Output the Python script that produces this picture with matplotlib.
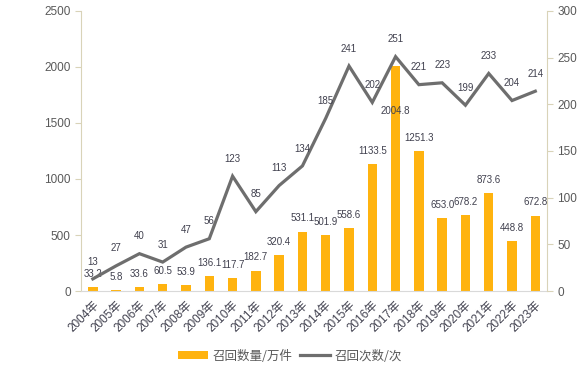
import matplotlib
matplotlib.use("Agg")
import matplotlib.pyplot as plt
from matplotlib.patches import Patch
from matplotlib.lines import Line2D

plt.rcParams['font.family'] = ['Liberation Sans', 'Noto Sans CJK SC', 'DejaVu Sans']

years = ["2004年", "2005年", "2006年", "2007年", "2008年", "2009年", "2010年", "2011年",
         "2012年", "2013年", "2014年", "2015年", "2016年", "2017年", "2018年", "2019年",
         "2020年", "2021年", "2022年", "2023年"]
quantity = [33.2, 5.8, 33.6, 60.5, 53.9, 136.1, 117.7, 182.7, 320.4, 531.1, 501.9, 558.6,
            1133.5, 2004.8, 1251.3, 653.0, 678.2, 873.6, 448.8, 672.8]
counts = [13, 27, 40, 31, 47, 56, 123, 85, 113, 134, 185, 241, 202, 251, 221, 223, 199, 233, 204, 214]

bar_color = "#FFB30F"
line_color = "#6E6E6E"
spine_color = "#D9D3B8"
tick_color = "#595959"
label_color = "#40404E"

fig = plt.figure(figsize=(5.8, 3.76), dpi=100)
ax = fig.add_axes([0.140, 0.226, 0.803, 0.745])
ax2 = ax.twinx()

x = list(range(len(years)))
ax.bar(x, quantity, width=0.4, color=bar_color, zorder=2)
ax2.plot(x, counts, color=line_color, linewidth=2.3, zorder=3, solid_joinstyle='miter')

ax.set_xlim(-0.5, len(years) - 0.5)
ax.set_ylim(0, 2500)
ax.set_yticks(range(0, 2501, 500))
ax2.set_ylim(0, 300)
ax2.set_yticks(range(0, 301, 50))

for a in (ax, ax2):
    a.spines["top"].set_visible(False)
    a.spines["left"].set_color(spine_color)
    a.spines["right"].set_color(spine_color)
    a.spines["bottom"].set_color("#D9D9D9")
    a.tick_params(axis='y', colors=spine_color, labelcolor=tick_color, labelsize=8.5, length=4, width=0.8)
ax2.spines["left"].set_visible(False)
ax.spines["right"].set_visible(False)
ax2.spines["bottom"].set_visible(False)

ax.set_xticks(x)
ax.set_xticklabels(years, rotation=45, ha='right', rotation_mode='anchor', fontsize=8.5,
                   color=label_color, family=['Liberation Sans', 'Noto Sans CJK SC'])
ax.tick_params(axis='x', length=0, pad=6)

for xi, v in zip(x, quantity):
    off = 9.5
    if v > 2000:
        off = -32
    ax.annotate(f"{v:.1f}", (xi, v), xytext=(0, off), textcoords='offset points',
                ha='center', va='center', fontsize=7, color=label_color, zorder=5)

for xi, c in zip(x, counts):
    ax2.annotate(str(c), (xi, c), xytext=(0, 12.5), textcoords='offset points',
                 ha='center', va='center', fontsize=7, color=label_color, zorder=5)

handles = [Patch(facecolor=bar_color, edgecolor='none'),
           Line2D([0], [0], color=line_color, linewidth=2.3)]
fig.legend(handles, ["召回数量/万件", "召回次数/次"], loc='center', bbox_to_anchor=(0.5, 0.053),
           ncol=2, frameon=False, labelcolor=tick_color,
           prop={'family': ['Noto Sans CJK SC', 'DejaVu Sans'], 'size': 9},
           handlelength=2.4, handleheight=0.6, columnspacing=0.6, handletextpad=0.4)

fig.savefig("out.png", dpi=100)
